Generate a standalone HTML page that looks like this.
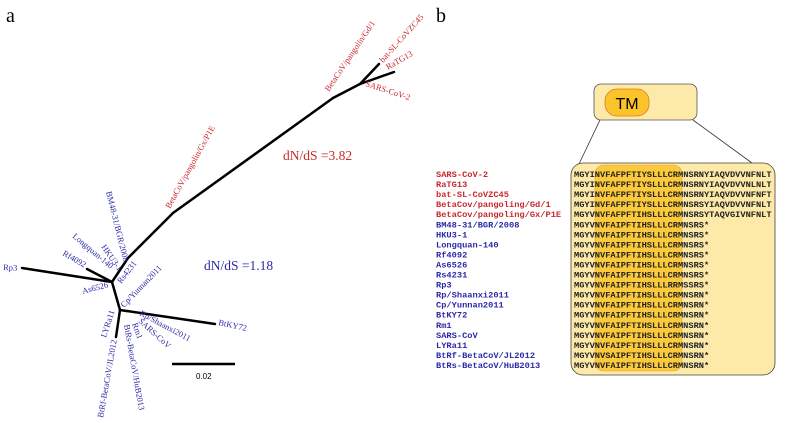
<!DOCTYPE html>
<html><head><meta charset="utf-8"><style>
body{margin:0;background:#fff;width:788px;height:423px;overflow:hidden;position:relative}
svg{position:absolute;left:0;top:0}
.mono{font-family:"Liberation Mono",monospace;font-size:8.7px;font-weight:bold}
</style></head><body>
<svg width="788" height="423">
<text x="6" y="22" font-family="Liberation Serif,serif" font-size="20">a</text>
<text x="436" y="22" font-family="Liberation Serif,serif" font-size="20">b</text>
<g id="tree" stroke="#000" stroke-width="2.5" fill="none" stroke-linecap="round"></g>
<g id="tlabels" font-family="Liberation Serif,serif" font-size="8.5"></g>
<text x="283" y="160" font-family="Liberation Serif,serif" font-size="13.5" fill="#c8282d">dN/dS =3.82</text>
<text x="204" y="270" font-family="Liberation Serif,serif" font-size="13.5" fill="#2a2aa8">dN/dS =1.18</text>
<line x1="172" y1="364" x2="235" y2="364" stroke="#000" stroke-width="2.5"/>
<text x="196" y="379" font-family="Liberation Sans,sans-serif" font-size="8">0.02</text>
<line x1="600" y1="120" x2="579" y2="164" stroke="#333" stroke-width="0.8"/>
<line x1="693" y1="120" x2="752" y2="163" stroke="#333" stroke-width="0.8"/>
<rect x="594" y="84" width="103" height="36" rx="7" fill="#fde9a8" stroke="#555" stroke-width="0.8"/>
<rect x="605" y="89" width="44" height="27" rx="12" fill="#fbc42a" stroke="#e0772a" stroke-width="0.8"/>
<text x="627" y="109" text-anchor="middle" font-family="Liberation Sans,sans-serif" font-size="16">TM</text>
<rect x="571" y="163" width="204" height="212" rx="12" fill="#fde9a8" stroke="#444" stroke-width="0.8"/>
<rect x="595" y="165" width="87" height="206" rx="9" fill="#fbc93c" stroke="#f0a040" stroke-width="0.6"/>
<g id="align"></g>
</svg>
<script>
const ns="http://www.w3.org/2000/svg";
const edges=[[22,268,112,282],[87,269,112,282],[112,282,120,310],[120,310,215,324],[120,310,116,337],[112,282,128,258],[128,258,173,213],[173,213,333,98],[333,98,360,84],[360,84,394,72],[360,84,379,64]];
const tree=document.getElementById('tree');
edges.forEach(e=>{const l=document.createElementNS(ns,'line');
l.setAttribute('x1',e[0]);l.setAttribute('y1',e[1]);l.setAttribute('x2',e[2]);l.setAttribute('y2',e[3]);


tree.appendChild(l);});
const R="#c8282d",B="#2a2aa8";
const tl=[["BetaCoV/pangolin/Gx/P1E",170,209,-61,R],["BetaCoV/pangolin/Gd/1",329,92,-56,R],["bat-SL-CoVZC45",383,63,-48,R],["RaTG13",388,70,-30,R],["SARS-CoV-2",365,86,18,R],
["Rp3",3,270,3,B],["BM48-31/BGR/2008",106,192,76,B],["HKU3-1",101,247,55,B],["Longquan-140",72,237,40,B],["Rf4092",62,255,30,B],["As6526",83,294,-15,B],["Rs4231",121,284,-52,B],["Cp/Yunnan2011",124,308,-46,B],["BtKY72",218,325,12,B],["Rp/Shaanxi2011",139,315,28,B],["SARS-CoV",138,322,42,B],["Rm1",132,324,70,B],["BtRs-BetaCoV/HuB2013",124,325,80,B],["LYRa11",106,338,-72,B],["BtRf-BetaCoV/JL2012",103,418,-80,B]];
const g=document.getElementById('tlabels');
tl.forEach(t=>{const e=document.createElementNS(ns,'text');e.textContent=t[0];
e.setAttribute('transform',`translate(${t[1]},${t[2]}) rotate(${t[3]})`);e.setAttribute('fill',t[4]);


g.appendChild(e);});
const names=["SARS-CoV-2","RaTG13","bat-SL-CoVZC45","BetaCov/pangoling/Gd/1","BetaCov/pangoling/Gx/P1E","BM48-31/BGR/2008","HKU3-1","Longquan-140","Rf4092","As6526","Rs4231","Rp3","Rp/Shaanxi2011","Cp/Yunnan2011","BtKY72","Rm1","SARS-CoV","LYRa11","BtRf-BetaCoV/JL2012","BtRs-BetaCoV/HuB2013"];
const seqs=["MGYINVFAFPFTIYSLLLCRMNSRNYIAQVDVVNFNLT","MGYINVFAFPFTIYSLLLCRMNSRNYIAQVDVVNLNLT","MGYINVFAFPFTIYSLLLCRMNSRNYIAQVDVVNFNFT","MGYINVFAFPFTIYSLLLCRMNSRSYIAQVDVVNFNLT","MGYVNVFAFPFTIHSLLLCRMNSRSYTAQVGIVNFNLT","MGYVNVFAIPFTIHSLLLCRMNSRS*","MGYVNVFAIPFTIHSLLLCRMNSRS*","MGYVNVFAIPFTIHSLLLCRMNSRS*","MGYVNVFAIPFTIHSLLLCRMNSRS*","MGYVNVFAIPFTIHSLLLCRMNSRS*","MGYVNVFAIPFTIHSLLLCRMNSRS*","MGYVNVFAIPFTIHSLLLRRMSSRS*","MGYVNVFAIPFTIHSLLLCRMNSRN*","MGYVNVFAIPFTIHSLLLCRMNSRN*","MGYVNVFAIPFTIHSLLLCRMNSRN*","MGYVNVFAIPFTIHSLLLCRMNSRN*","MGYVNVFAIPFTIHSLLLCRMNSRN*","MGYVNVFAIPFTIHSLLLCRMNSRN*","MGYVNVSAIPFTIHSLLLCRMNSRN*","MGYVNVFAIPFTIHSLLLCRMNSRN*"];
const al=document.getElementById('align');
names.forEach((n,i)=>{const y=177+i*10.05;
const a=document.createElementNS(ns,'text');a.textContent=n;a.setAttribute('x',436);a.setAttribute('y',y);a.setAttribute('class','mono');a.setAttribute('fill',i<5?R:B);


al.appendChild(a);
const s=document.createElementNS(ns,'text');s.textContent=seqs[i];s.setAttribute('x',574);s.setAttribute('y',y);s.setAttribute('class','mono');s.setAttribute('fill','#222');s.setAttribute('textLength',seqs[i].length*5.2);


al.appendChild(s);});
</script>
</body></html>
